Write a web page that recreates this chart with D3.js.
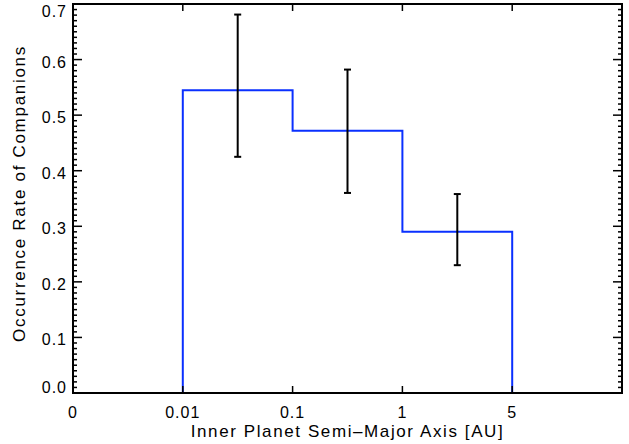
<!DOCTYPE html>
<html><head><meta charset="utf-8">
<script src="https://cdn.jsdelivr.net/npm/d3@7"></script>
<style>body{margin:0;background:#fff}svg{display:block}text{font-family:"Liberation Sans",Arial,sans-serif;fill:#000}</style>
</head><body><svg id="c" width="629" height="444"></svg>
<script>
const binCenters = [0.5, 1.5, 2.5, 3.5, 4.5];
const rates = [0, 0.545, 0.472, 0.290, 0];
const errLow = [0, 0.425, 0.360, 0.230, 0];
const errHigh = [0, 0.681, 0.582, 0.358, 0];
const xTickPos = [0, 1, 2, 3, 4];
const xTickLabels = ["0", "0.01", "0.1", "1", "5"];
const yTicks = [0, 0.1, 0.2, 0.3, 0.4, 0.5, 0.6, 0.7];

const svg = d3.select("#c");
const L = 73, R = 622, T = 4, B = 393;
const x = d3.scaleLinear().domain([0, 5]).range([L, R]);
const y = d3.scaleLinear().domain([0, 0.7]).range([B, T]);

// histogram step line (IDL psym=10 style)
const pts = [];
binCenters.forEach((c, i) => {
  const x0 = i === 0 ? c : c - 0.5;
  const x1 = i === binCenters.length - 1 ? c : c + 0.5;
  pts.push([x0, rates[i]], [x1, rates[i]]);
});
svg.append("path")
  .attr("d", d3.line().x(d => x(d[0])).y(d => y(d[1]))(pts))
  .attr("fill", "none").attr("stroke", "#0a30ff").attr("stroke-width", 2);

// error bars
const eb = svg.append("g").attr("stroke", "#000").attr("stroke-width", 2);
binCenters.forEach((c, i) => {
  eb.append("line").attr("x1", x(c)).attr("x2", x(c)).attr("y1", y(errLow[i])).attr("y2", y(errHigh[i]));
  [errLow[i], errHigh[i]].forEach(v => {
    eb.append("line").attr("x1", x(c) - 3.5).attr("x2", x(c) + 3.5).attr("y1", y(v)).attr("y2", y(v));
  });
});

// frame
svg.append("rect").attr("x", L).attr("y", T).attr("width", R - L).attr("height", B - T)
  .attr("fill", "none").attr("stroke", "#000").attr("stroke-width", 2);

// y ticks (major + minor) on both sides
const ax = svg.append("g").attr("stroke", "#000").attr("stroke-width", 1.5);
const minor = d3.range(0, 71).map(k => k / 100);
minor.forEach(v => {
  const isMajor = Math.abs(v * 10 - Math.round(v * 10)) < 1e-6;
  const len = isMajor ? 9 : 4;
  ax.append("line").attr("x1", L).attr("x2", L + len).attr("y1", y(v)).attr("y2", y(v));
  ax.append("line").attr("x1", R).attr("x2", R - len).attr("y1", y(v)).attr("y2", y(v));
});
// x ticks bottom and top
xTickPos.slice(1).forEach(p => {
  ax.append("line").attr("x1", x(p)).attr("x2", x(p)).attr("y1", B).attr("y2", B - 7);
  ax.append("line").attr("x1", x(p)).attr("x2", x(p)).attr("y1", T).attr("y2", T + 7);
});

// labels
const fs = 16;
yTicks.forEach(v => {
  const base = Math.min(393, Math.max(17, y(v) + 8));
  svg.append("text").attr("x", 67).attr("y", base).attr("text-anchor", "end")
    .attr("font-size", fs).attr("letter-spacing", 1).text(v.toFixed(1));
});
xTickPos.forEach((p, i) => {
  svg.append("text").attr("x", x(p)).attr("y", 418).attr("text-anchor", "middle")
    .attr("font-size", fs).attr("letter-spacing", 1).text(xTickLabels[i]);
});
svg.append("text").attr("x", x(2.5)).attr("y", 437).attr("text-anchor", "middle")
  .attr("font-size", 17).attr("letter-spacing", 1.6).text("Inner Planet Semi\u2013Major Axis [AU]");
svg.append("text").attr("transform", `translate(25,${(T + B) / 2 - 5}) rotate(-90)`).attr("text-anchor", "middle")
  .attr("font-size", 17).attr("letter-spacing", 1.7).text("Occurrence Rate of Companions");
</script></body></html>
